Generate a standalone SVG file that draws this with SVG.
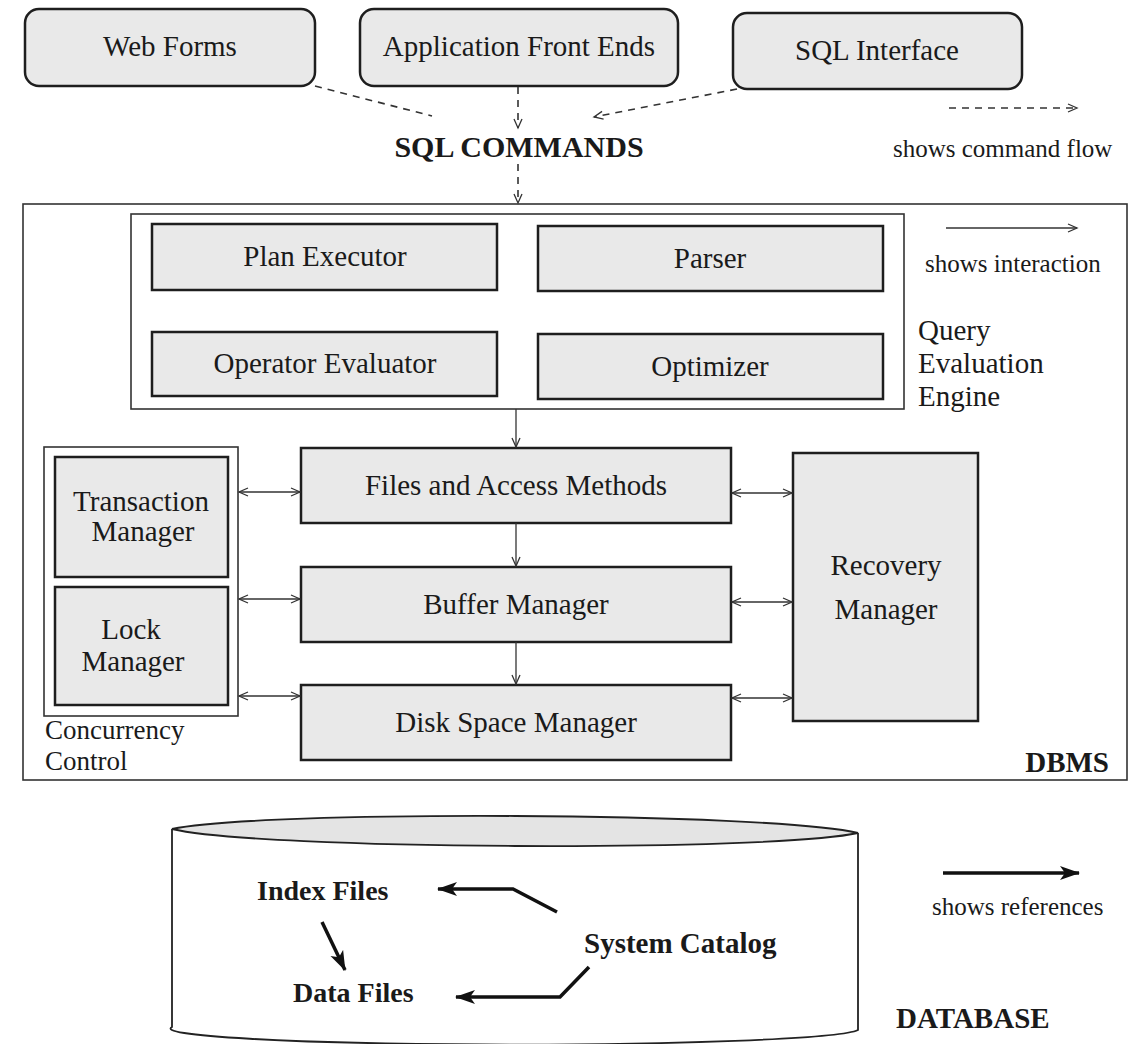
<svg xmlns="http://www.w3.org/2000/svg" width="1132" height="1044" viewBox="0 0 1132 1044">
  <style>
    .box { fill: #e9e9e9; stroke: #1e1e1e; stroke-width: 2.5; }
    .frame { fill: none; stroke: #333; stroke-width: 1.6; }
    .lbl { font-family: "Liberation Serif", "Times New Roman", serif; font-size: 29px; fill: #1a1a1a; }
    .mid { text-anchor: middle; }
    .bold { font-weight: bold; }
    .legend { font-size: 25px; }
    .dash { stroke: #333; stroke-width: 1.6; stroke-dasharray: 7 6; fill: none; }
    .thin { stroke: #333; stroke-width: 1.3; fill: none; }
    .ref { stroke: #111; stroke-width: 3.5; fill: none; }
  </style>
  <defs>
    <!-- open chevron head for command flow and interaction arrows -->
    <marker id="vee" markerUnits="userSpaceOnUse" markerWidth="12" markerHeight="10" refX="10" refY="5" orient="auto-start-reverse">
      <path d="M1,1 L10,5 L1,9" fill="none" stroke="#333" stroke-width="1.3"/>
    </marker>
    <!-- solid head for reference arrows -->
    <marker id="solid" markerUnits="userSpaceOnUse" markerWidth="22" markerHeight="16" refX="19" refY="8" orient="auto">
      <path d="M0,1 L20,8 L0,15 L5,8 Z" fill="#111"/>
    </marker>
  </defs>

  <!-- client programs -->
  <g id="web-forms">
    <rect class="box" x="25" y="9" width="290" height="77" rx="14"/>
    <text class="lbl mid" x="170" y="56">Web Forms</text>
  </g>
  <g id="app-front-ends">
    <rect class="box" x="360" y="9" width="318" height="77" rx="14"/>
    <text class="lbl mid" x="519" y="56">Application Front Ends</text>
  </g>
  <g id="sql-interface">
    <rect class="box" x="733" y="13" width="289" height="76" rx="14"/>
    <text class="lbl mid" x="877" y="60">SQL Interface</text>
  </g>

  <g id="sql-commands">
    <text class="lbl mid bold" x="519" y="157" style="font-size:30px">SQL COMMANDS</text>
  </g>

  <!-- legend -->
  <g id="legend">
    <line class="dash" x1="949" y1="108" x2="1077" y2="108" marker-end="url(#vee)"/>
    <text class="lbl legend" x="893" y="157">shows command flow</text>
    <line class="thin" x1="946" y1="228" x2="1077" y2="228" marker-end="url(#vee)"/>
    <text class="lbl legend" x="925" y="272">shows interaction</text>
    <line class="ref" x1="943" y1="873" x2="1079" y2="873" marker-end="url(#solid)"/>
    <text class="lbl legend" x="932" y="915">shows references</text>
  </g>

  <!-- DBMS frame -->
  <g id="dbms">
    <rect class="frame" x="23" y="204" width="1104" height="576"/>
    <text class="lbl bold" x="1109" y="772" text-anchor="end">DBMS</text>
  </g>

  <!-- query evaluation engine -->
  <g id="query-evaluation-engine">
    <rect class="frame" x="131" y="214" width="773" height="195"/>
    <text class="lbl" x="918" y="340">Query</text>
    <text class="lbl" x="918" y="373">Evaluation</text>
    <text class="lbl" x="918" y="406">Engine</text>
  </g>
  <g id="plan-executor">
    <rect class="box" x="152" y="224" width="345" height="66"/>
    <text class="lbl mid" x="325" y="266">Plan Executor</text>
  </g>
  <g id="parser">
    <rect class="box" x="538" y="226" width="345" height="65"/>
    <text class="lbl mid" x="710" y="268">Parser</text>
  </g>
  <g id="operator-evaluator">
    <rect class="box" x="152" y="332" width="345" height="64"/>
    <text class="lbl mid" x="325" y="373">Operator Evaluator</text>
  </g>
  <g id="optimizer">
    <rect class="box" x="538" y="334" width="345" height="65"/>
    <text class="lbl mid" x="710" y="376">Optimizer</text>
  </g>

  <!-- storage layers -->
  <g id="files-access-methods">
    <rect class="box" x="301" y="448" width="430" height="75"/>
    <text class="lbl mid" x="516" y="495">Files and Access Methods</text>
  </g>
  <g id="buffer-manager">
    <rect class="box" x="301" y="567" width="430" height="75"/>
    <text class="lbl mid" x="516" y="614">Buffer Manager</text>
  </g>
  <g id="disk-space-manager">
    <rect class="box" x="301" y="685" width="430" height="75"/>
    <text class="lbl mid" x="516" y="732">Disk Space Manager</text>
  </g>

  <!-- concurrency control -->
  <g id="concurrency-control">
    <rect class="frame" x="44" y="447" width="194" height="269"/>
    <text class="lbl" x="45" y="739" style="font-size:27px">Concurrency</text>
    <text class="lbl" x="45" y="770" style="font-size:27px">Control</text>
  </g>
  <g id="transaction-manager">
    <rect class="box" x="55" y="457" width="173" height="120"/>
    <text class="lbl mid" x="141" y="511">Transaction</text>
    <text class="lbl mid" x="143" y="541">Manager</text>
  </g>
  <g id="lock-manager">
    <rect class="box" x="55" y="587" width="173" height="118"/>
    <text class="lbl mid" x="131" y="639">Lock</text>
    <text class="lbl mid" x="133" y="671">Manager</text>
  </g>

  <g id="recovery-manager">
    <rect class="box" x="793" y="453" width="185" height="268"/>
    <text class="lbl mid" x="886" y="575">Recovery</text>
    <text class="lbl mid" x="886" y="619">Manager</text>
  </g>

  <!-- database cylinder -->
  <g id="database">
    <path d="M172,829 L172,1027 A343,16 0 0 0 858,1030 L858,833" fill="#fff" stroke="#222" stroke-width="1.8"/>
    <path d="M172,829 C260,810 770,812 858,833 C770,852 260,850 172,829 Z" fill="#e4e4e4" stroke="#222" stroke-width="1.8"/>
    <text class="lbl bold" x="896" y="1028">DATABASE</text>
  </g>
  <g id="index-files">
    <text class="lbl bold" x="257" y="900" style="font-size:28px">Index Files</text>
  </g>
  <g id="data-files">
    <text class="lbl bold" x="293" y="1002" style="font-size:28px">Data Files</text>
  </g>
  <g id="system-catalog">
    <text class="lbl bold" x="584" y="953">System Catalog</text>
  </g>

  <!-- connectors -->
  <g id="connectors">
    <!-- command flow -->
    <line class="dash" x1="315" y1="86" x2="432" y2="116"/>
    <line class="dash" x1="518" y1="87" x2="518" y2="128" marker-end="url(#vee)"/>
    <line class="dash" x1="737" y1="89" x2="594" y2="117" marker-end="url(#vee)"/>
    <line class="dash" x1="518" y1="164" x2="518" y2="203" marker-end="url(#vee)"/>

    <!-- query engine down through the layers -->
    <line class="thin" x1="516" y1="409" x2="516" y2="447" marker-end="url(#vee)"/>
    <line class="thin" x1="516" y1="523" x2="516" y2="566" marker-end="url(#vee)"/>
    <line class="thin" x1="516" y1="642" x2="516" y2="684" marker-end="url(#vee)"/>

    <!-- concurrency control interaction -->
    <line class="thin" x1="239" y1="492" x2="300" y2="492" marker-start="url(#vee)" marker-end="url(#vee)"/>
    <line class="thin" x1="239" y1="599" x2="300" y2="599" marker-start="url(#vee)" marker-end="url(#vee)"/>
    <line class="thin" x1="239" y1="696" x2="300" y2="696" marker-start="url(#vee)" marker-end="url(#vee)"/>

    <!-- recovery manager interaction -->
    <line class="thin" x1="732" y1="493" x2="792" y2="493" marker-start="url(#vee)" marker-end="url(#vee)"/>
    <line class="thin" x1="732" y1="602" x2="792" y2="602" marker-start="url(#vee)" marker-end="url(#vee)"/>
    <line class="thin" x1="732" y1="698" x2="792" y2="698" marker-start="url(#vee)" marker-end="url(#vee)"/>

    <!-- catalog references -->
    <polyline class="ref" points="557,912 513,889 438,889" marker-end="url(#solid)"/>
    <polyline class="ref" points="589,967 560,997 456,997" marker-end="url(#solid)"/>
    <line class="ref" x1="322" y1="922" x2="345" y2="970" marker-end="url(#solid)"/>
  </g>
</svg>
